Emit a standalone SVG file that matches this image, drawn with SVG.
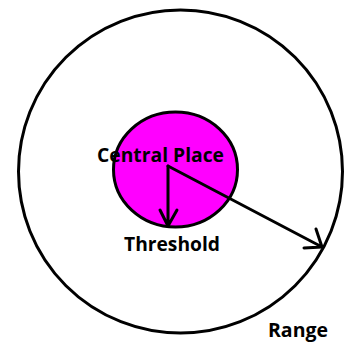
<svg xmlns="http://www.w3.org/2000/svg" width="349" height="342" viewBox="0 0 349 342">
<style>
.ln{fill:none;stroke:#000;stroke-width:3;stroke-linecap:round;stroke-linejoin:round}
.t{font-family:"Open Sans","Liberation Sans",sans-serif;font-weight:bold;font-size:19px;fill:#000}
</style>
<rect width="349" height="342" fill="#fff"/>
<g id="range-circle"><ellipse cx="180.5" cy="171.5" rx="162" ry="161.5" class="ln" fill="none"/></g>
<g id="central-place"><ellipse cx="175.5" cy="169.5" rx="62" ry="57.5" fill="#ff00ff" stroke="#000" stroke-width="3"/></g>
<g id="connectors">
<path class="ln" d="M168,166 L168,226 M160,210 L168,226 L177,210"/>
<path class="ln" d="M168,166 L322,247 M316,229 L322,247 L304,248"/>
</g>
<g id="labels">
<text class="t" x="97" y="162" textLength="127" lengthAdjust="spacingAndGlyphs">Central Place</text>
<text class="t" x="124" y="251" textLength="96" lengthAdjust="spacingAndGlyphs">Threshold</text>
<text class="t" x="268" y="336.5" textLength="60" lengthAdjust="spacingAndGlyphs">Range</text>
</g>
</svg>
